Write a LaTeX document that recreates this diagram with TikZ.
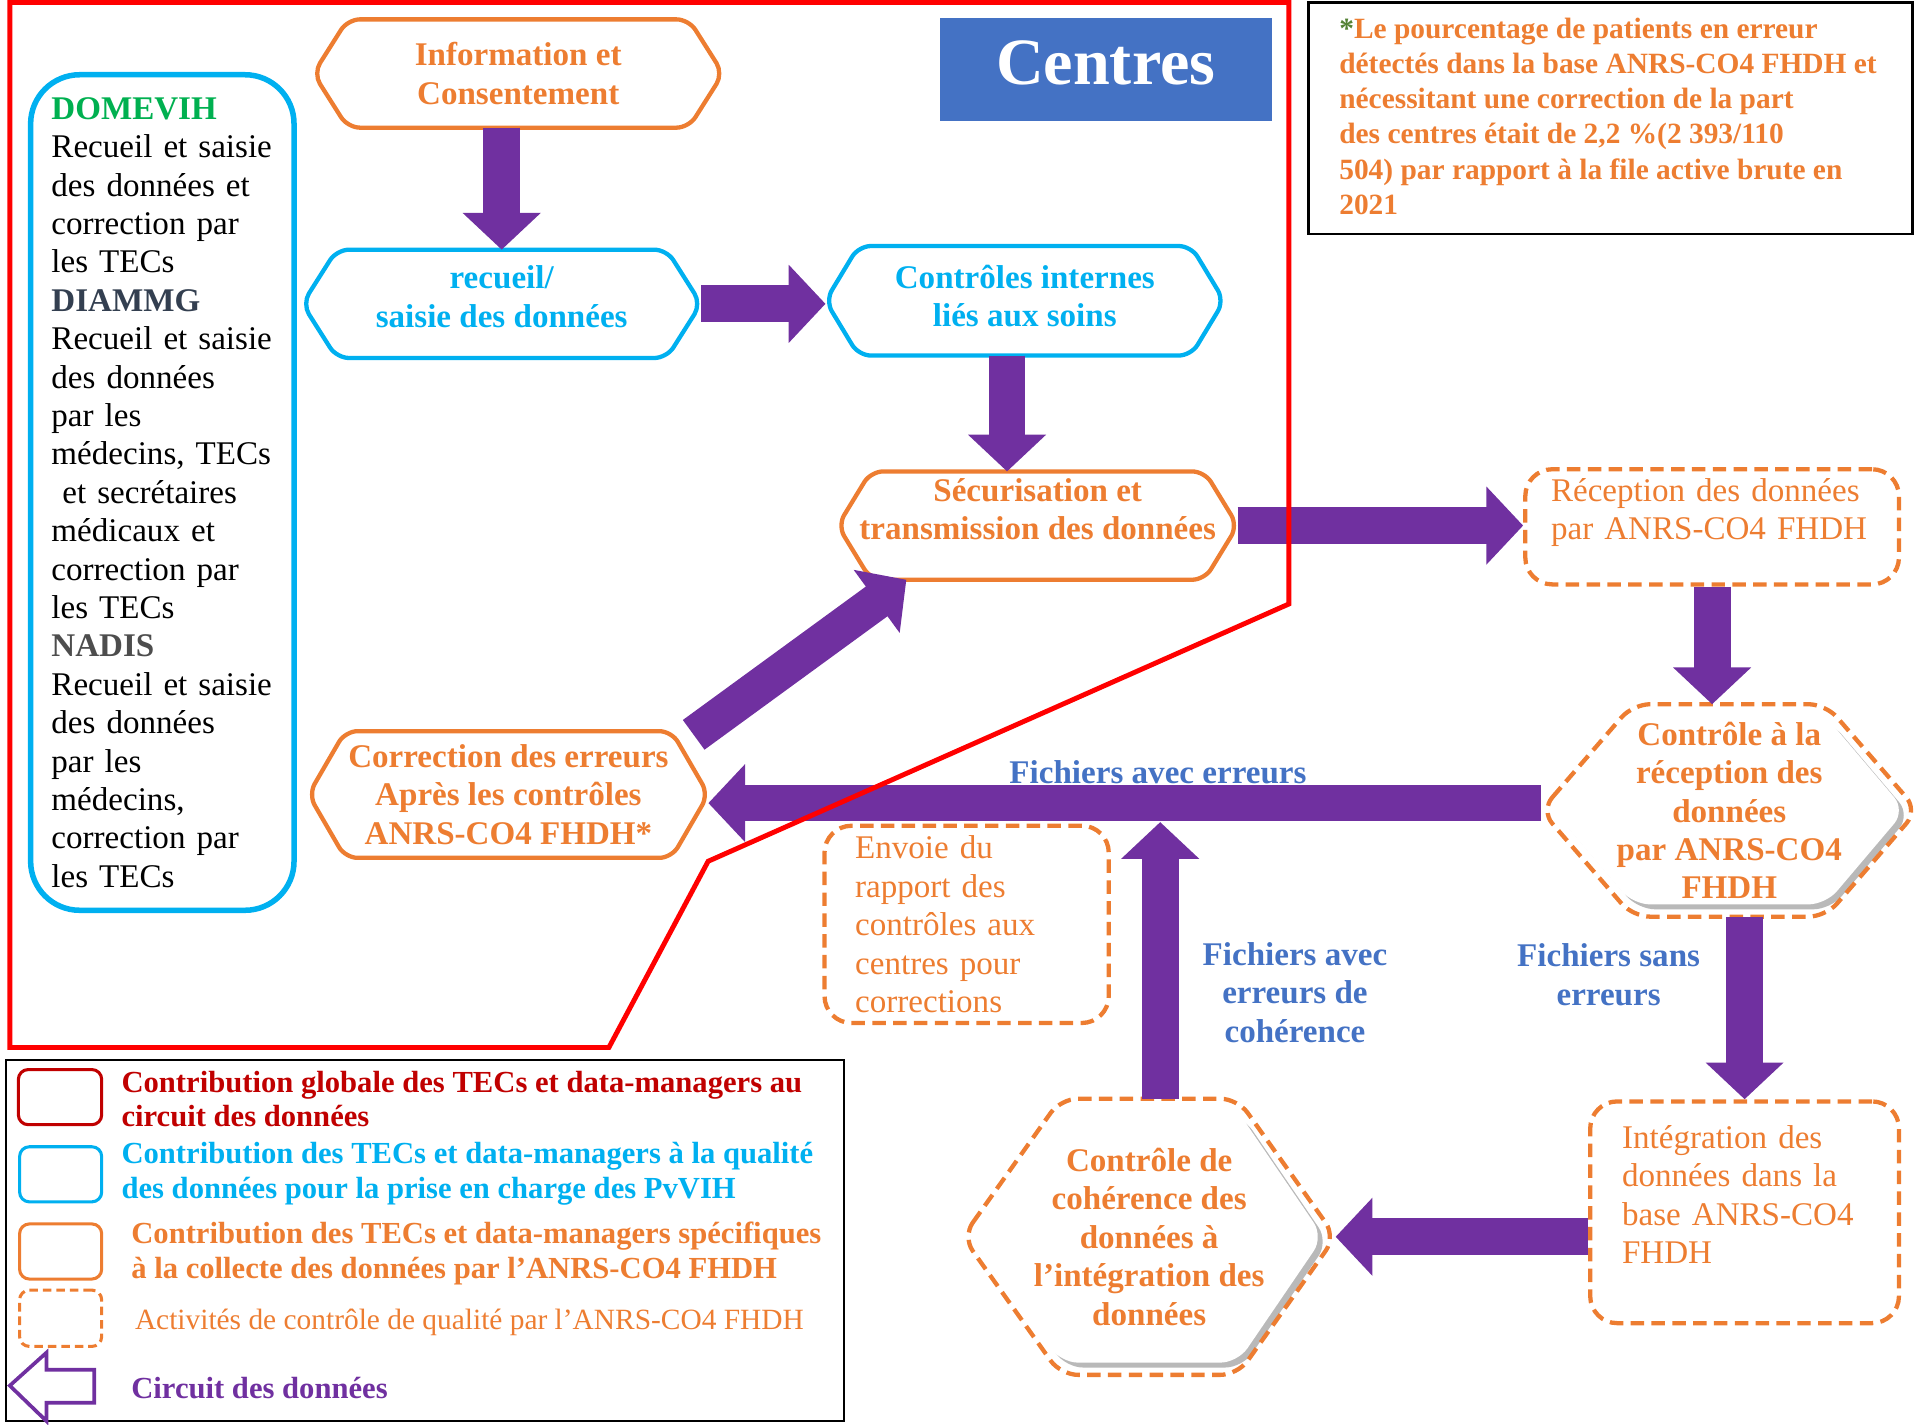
\documentclass[tikz,border=0pt]{standalone}
\usepackage{fontspec}
\setmainfont{Liberation Serif}
\usetikzlibrary{calc, shapes, backgrounds, shadows, arrows.meta, positioning}

\definecolor{orangeF}{HTML}{ED7D31}
\definecolor{cyanF}{HTML}{00B0F0}
\definecolor{violetF}{HTML}{7030A0}
\definecolor{bleuF}{HTML}{4472C4}
\definecolor{vertF}{HTML}{00B050}
\definecolor{rougeF}{HTML}{C00000}
\definecolor{ardoiseF}{HTML}{333F50}
\definecolor{grisF}{HTML}{4D4D4D}
\definecolor{oliveF}{HTML}{548235}

% hexagone autour d'un noeud : [options]{noeud}{pointe}{retrait}
\newcommand{\hexagone}[4][]{%
  \draw[#1] ([xshift=#4]#2.west) -- ([xshift=#3,yshift=-#4]#2.north west)
    -- ([xshift=-#3,yshift=-#4]#2.north east) -- ([xshift=-#4]#2.east)
    -- ([xshift=-#3,yshift=#4]#2.south east) -- ([xshift=#3,yshift=#4]#2.south west) -- cycle;}

\tikzset{
  texte/.style={font=\fontsize{27}{31.35}\selectfont},
  gras/.style={font=\fontsize{27}{31.35}\selectfont\bfseries},
  case/.style 2 args={minimum width=#1pt, minimum height=#2pt, inner sep=0pt},
  trait/.style={line width=3.5pt, rounded corners=10pt},
  tiret/.style={draw=orangeF, line width=3.5pt, dash pattern=on 11pt off 6pt},
  flux/.style={draw=violetF, line width=30pt, -{Triangle[width=62pt,length=30pt]}},
  ombre/.style={fill=white, draw=none, rounded corners=14pt,
    drop shadow={shadow xshift=4pt, shadow yshift=-4pt, opacity=0.5, fill=black!55}},
  etiquette/.style={gras, text=bleuF, align=center},
  legende/.style={font=\fontsize{25}{28}\selectfont\bfseries, anchor=west, align=left},
}

\begin{document}
\begin{tikzpicture}[x=1pt, y=-1pt, every node/.style={inner sep=0pt}]
\useasboundingbox (0,0) rectangle (1568,1163);

% centres
\node[fill=bleuF, case={271}{84}, text=white, text depth=12pt, font=\fontsize{54}{60}\selectfont\bfseries] (centres) at (902.5,57) {Centres};
\node[case={334}{88}, gras, text=orangeF, align=center] (info) at (423,60) {Information et\\Consentement};
\node[case={325}{88}, gras, text=cyanF, align=center, text depth=12pt] (recueil) at (409.5,248) {recueil/\\saisie des données};
\node[case={325}{89}, gras, text=cyanF, align=center, text depth=8pt] (controles) at (836.5,245.5) {Contrôles internes\\liés aux soins};
\node[case={326}{88}, gras, text=orangeF, align=center, text depth=27pt] (secur) at (847,429) {Sécurisation et\\transmission des données};
\node[case={326}{103}, gras, text=orangeF, align=center] (correction) at (415,648.5) {Correction des erreurs\\Après les contrôles\\ANRS-CO4 FHDH*};
\node[case={215}{682}, draw=cyanF, line width=4.5pt, rounded corners=40pt, texte, text width=181pt, align=left] (sources) at (132.5,402)
  {\textcolor{vertF}{\bfseries DOMEVIH}\\Recueil et saisie\\des données et\\correction par\\les TECs\\
   \textcolor{ardoiseF}{\bfseries DIAMMG}\\Recueil et saisie\\des données\\par les\\médecins, TECs\\~et secrétaires\\médicaux et\\correction par\\les TECs\\
   \textcolor{grisF}{\bfseries NADIS}\\Recueil et saisie\\des données\\par les\\médecins,\\correction par\\les TECs};

% ANRS-CO4 FHDH
\node[case={305}{94}, tiret, rounded corners=22pt, texte, text=orangeF, text width=263pt, align=left] (recep) at (1397.5,430) {Réception des données\\par ANRS-CO4 FHDH\\[-12pt]\strut};
\node[case={307}{173}, gras, text=orangeF, align=center] (ctrlrecep) at (1411.5,661.5) {Contrôle à la\\réception des\\données\\par ANRS-CO4\\FHDH};
\node[case={232}{161}, tiret, rounded corners=22pt, texte, text=orangeF, text width=182pt, align=left] (envoi) at (789,754.5) {Envoie du\\rapport des\\contrôles aux\\centres pour\\corrections};
\node[case={252}{181}, tiret, rounded corners=22pt, texte, text=orangeF, text width=200pt, align=left] (integ) at (1424,989.5) {Intégration des\\données dans la\\base ANRS-CO4\\FHDH\\[-12pt]\strut};
\node[case={304}{225}, gras, text=orangeF, align=center] (coherence) at (938,1009.5) {Contrôle de\\cohérence des\\données à\\l’intégration des\\données};

\node[etiquette] (lblcoh) at (1057,810) {Fichiers avec\\erreurs de\\cohérence};
\node[etiquette] (lblsans) at (1313,795.5) {Fichiers sans\\erreurs};

\begin{scope}[on background layer]
  \hexagone[draw=orangeF, trait]{info}{28pt}{0pt}
  \hexagone[draw=cyanF, trait]{recueil}{28pt}{0pt}
  \hexagone[draw=cyanF, trait]{controles}{27pt}{0pt}
  \hexagone[draw=orangeF, trait]{secur}{27pt}{0pt}
  \hexagone[draw=orangeF, trait]{correction}{30pt}{0pt}
  \hexagone[ombre]{ctrlrecep}{75pt}{10pt}
  \hexagone[tiret, rounded corners=14pt]{ctrlrecep}{75pt}{0pt}
  \hexagone[ombre]{coherence}{80pt}{10pt}
  \hexagone[tiret, rounded corners=14pt]{coherence}{80pt}{0pt}
\end{scope}

% circuit
\coordinate (depctl) at ([xshift=-14.5pt]controles.south);
\coordinate (deperr) at ([yshift=6pt]ctrlrecep.west);
\coordinate (jonction) at (947,671);
\draw[flux] (info.south -| recueil.north) -- (recueil.north);
\draw[flux] (recueil.east) -- (recueil.east -| controles.west);
\draw[flux] (depctl) -- (depctl |- secur.north);
\draw[flux] (secur.east) -- (secur.east -| recep.west);
\draw[flux] ($(correction.north east)+(-12,3)$) -- ([xshift=56pt]secur.south west);
\draw[flux] (recep.south) -- (recep.south |- ctrlrecep.north);
\draw[flux] (deperr) -- node[pos=0.46, above=1pt, etiquette] (lblerr) {Fichiers avec erreurs} (deperr -| correction.east);
\draw[flux] (coherence.north -| jonction) -- (jonction);
\draw[flux] (ctrlrecep.south -| integ.north) -- (integ.north);
\draw[flux] (integ.west |- coherence.east) -- (coherence.east);

% contour des centres
\draw[red, line width=4pt] (8,2) -- (1052,2) -- (1052,493) -- (578,703) -- (497,855) -- (8,855) -- cycle;

% note
\node[draw=black, line width=2pt, case={493}{189}] (note) at (1314.5,96.5) {};
\node[font=\fontsize{24}{28.6}\selectfont\bfseries, text=orangeF, anchor=west, align=left] (notetxt) at (1093,95)
  {\textcolor{oliveF}{*}Le pourcentage de patients en erreur\\détectés dans la base ANRS-CO4 FHDH et\\nécessitant une correction de la part\\des centres était de 2,2 \%(2 393/110\\504) par rapport à la file active brute en\\2021};

% legende
\node[draw=black, line width=2pt, case={684}{295}] (legende) at (347,1012.5) {};
\node[case={68}{45}, draw=rougeF, line width=2.5pt, rounded corners=8pt] (lgrouge) at (49,895.5) {};
\node[case={67}{45}, draw=cyanF, line width=2.5pt, rounded corners=8pt] (lgcyan) at (49.5,958.5) {};
\node[case={67}{45}, draw=orangeF, line width=2.5pt, rounded corners=8pt] (lgorange) at (49.5,1021.5) {};
\node[case={67}{46}, tiret, line width=2.5pt, rounded corners=8pt, dash pattern=on 7pt off 4pt] (lgtiret) at (49.5,1076) {};
\draw[violetF, line width=3pt] (8,1131) -- (38,1104) -- (38,1118) -- (77,1118) -- (77,1145) -- (38,1145) -- (38,1160) -- cycle;
\node[legende, text=rougeF] (txtrouge) at (99,897) {Contribution globale des TECs et data-managers au\\circuit des données};
\node[legende, text=cyanF] (txtcyan) at (99,958) {Contribution des TECs et data-managers à la qualité\\des données pour la prise en charge des PvVIH};
\node[legende, text=orangeF] (txtorange) at (107,1023) {Contribution des TECs et data-managers spécifiques\\à la collecte des données par l’ANRS-CO4 FHDH};
\node[legende, text=orangeF, font=\fontsize{24}{28}\selectfont] (txttiret) at (110,1079) {Activités de contrôle de qualité par l’ANRS-CO4 FHDH};
\node[legende, text=violetF] (txtflux) at (107,1133) {Circuit des données};
\end{tikzpicture}
\end{document}
